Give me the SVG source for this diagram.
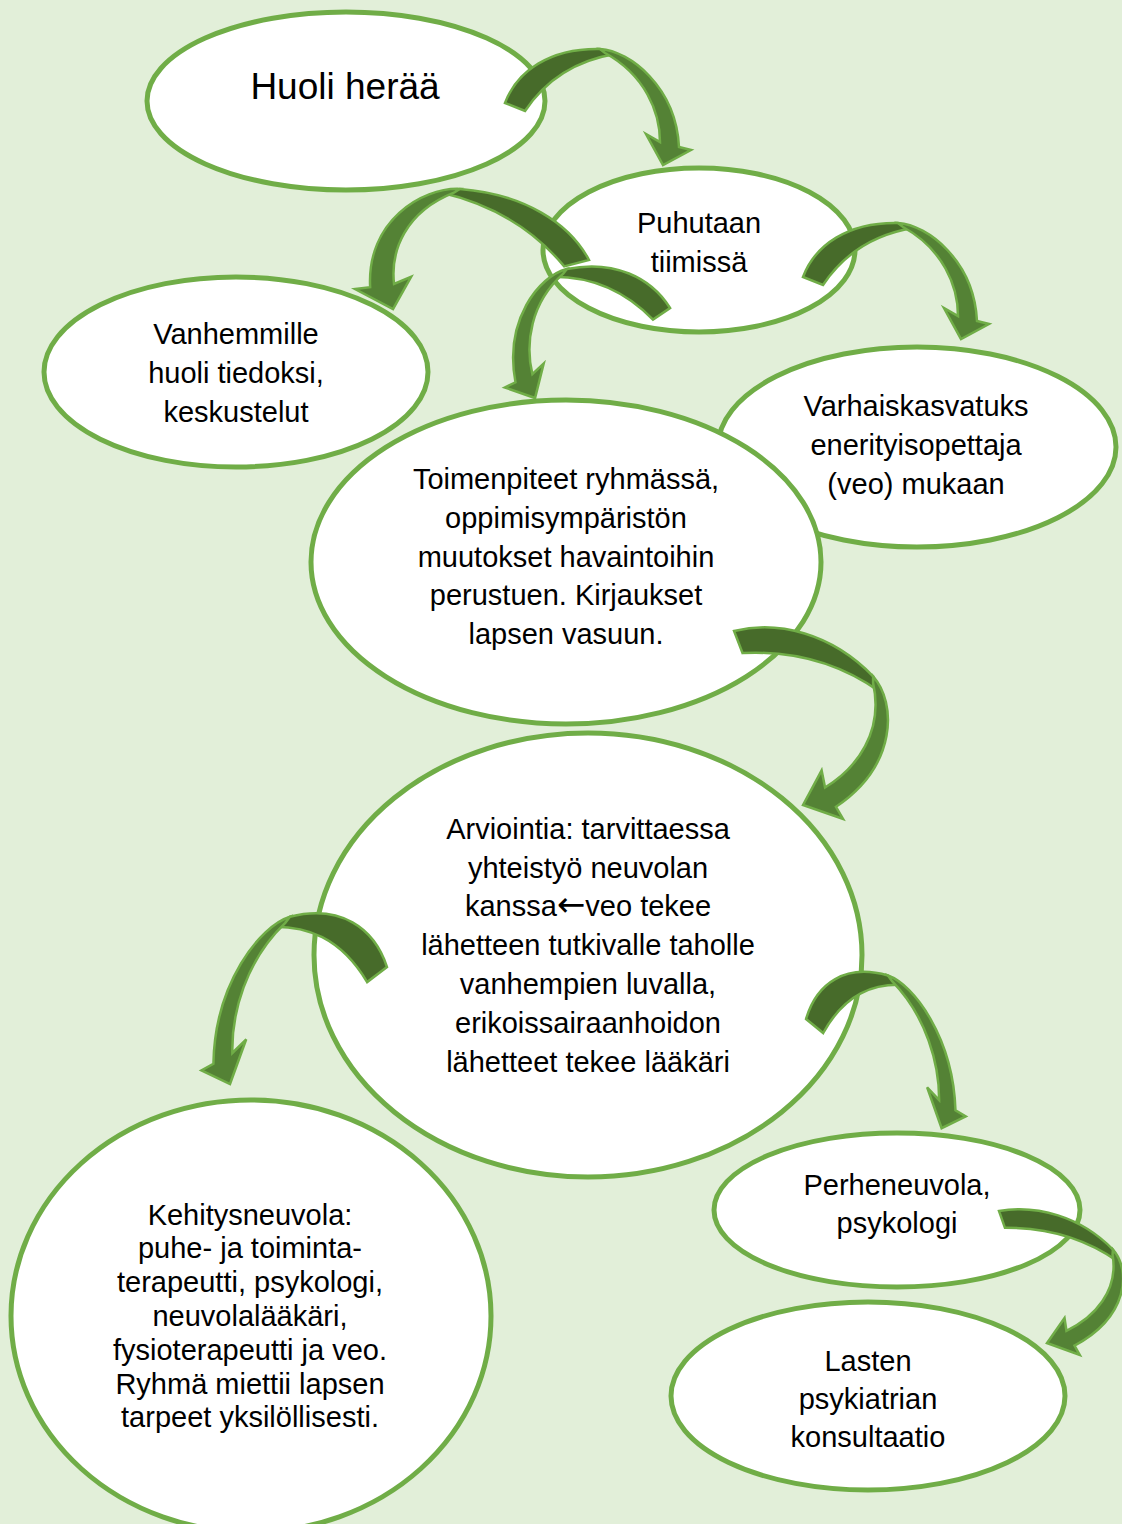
<svg xmlns="http://www.w3.org/2000/svg" xmlns:xlink="http://www.w3.org/1999/xlink" width="1122" height="1524" viewBox="0 0 1122 1524">
<style>
.node ellipse{fill:#ffffff;stroke:#70AD47;stroke-width:5}
.node text{font-family:"Liberation Sans",Arial,sans-serif;font-size:29px;fill:#000;text-anchor:middle}
.sym{font-family:"DejaVu Sans",sans-serif;font-size:34px}
.dk{fill:#476B2A;stroke:#70AD47;stroke-width:2.5;vector-effect:non-scaling-stroke;stroke-linejoin:miter}
.lt{fill:#548235;stroke:#70AD47;stroke-width:2.5;vector-effect:non-scaling-stroke;stroke-linejoin:miter}
</style>
<defs>
<g id="carrow">
<path class="dk" d="M0,56 C12,24 45,1 95,2 L110,7 C80,12 46,25 20,64 Z"/>
<path class="lt" d="M95,2 C125,4 171,40 174,100 L186,103 L158,118 L141,87 L155,95 C155,65 140,28 100,6 Z"/>
</g>
</defs>
<rect x="0" y="0" width="1122" height="1524" fill="#E2EFD9"/>
<g id="n1" class="node"><ellipse cx="346" cy="101" rx="199" ry="89"/><text x="345" y="99" style="font-size:37px">Huoli herää</text></g>
<g id="n2" class="node"><ellipse cx="699" cy="250" rx="156" ry="82"/><text x="699" y="233">Puhutaan</text><text x="699" y="272">tiimissä</text></g>
<g id="n3" class="node"><ellipse cx="236" cy="372" rx="192" ry="95"/><text x="236" y="344">Vanhemmille</text><text x="236" y="383">huoli tiedoksi,</text><text x="236" y="422">keskustelut</text></g>
<g id="n4" class="node"><ellipse cx="917" cy="447" rx="199" ry="100"/><text x="916" y="416">Varhaiskasvatuks</text><text x="916" y="455">enerityisopettaja</text><text x="916" y="494">(veo) mukaan</text></g>
<g id="n5" class="node"><ellipse cx="566" cy="562" rx="255" ry="162"/><text x="566" y="489">Toimenpiteet ryhmässä,</text><text x="566" y="528">oppimisympäristön</text><text x="566" y="567">muutokset havaintoihin</text><text x="566" y="605">perustuen. Kirjaukset</text><text x="566" y="644">lapsen vasuun.</text></g>
<g id="n6" class="node"><ellipse cx="588" cy="955" rx="274" ry="222"/><text x="588" y="839">Arviointia: tarvittaessa</text><text x="588" y="878">yhteistyö neuvolan</text><text x="588" y="916">kanssa<tspan class="sym">←</tspan>veo tekee</text><text x="588" y="955">lähetteen tutkivalle taholle</text><text x="588" y="994">vanhempien luvalla,</text><text x="588" y="1033">erikoissairaanhoidon</text><text x="588" y="1072">lähetteet tekee lääkäri</text></g>
<g id="n7" class="node"><ellipse cx="251" cy="1316" rx="240" ry="216"/><text x="250" y="1225">Kehitysneuvola:</text><text x="250" y="1258">puhe- ja toiminta-</text><text x="250" y="1292">terapeutti, psykologi,</text><text x="250" y="1326">neuvolalääkäri,</text><text x="250" y="1360">fysioterapeutti ja veo.</text><text x="250" y="1394">Ryhmä miettii lapsen</text><text x="250" y="1427">tarpeet yksilöllisesti.</text></g>
<g id="n8" class="node"><ellipse cx="897" cy="1210" rx="183" ry="77"/><text x="897" y="1195">Perheneuvola,</text><text x="897" y="1233">psykologi</text></g>
<g id="n9" class="node"><ellipse cx="868" cy="1396" rx="197" ry="94"/><text x="868" y="1371">Lasten</text><text x="868" y="1409">psykiatrian</text><text x="868" y="1447">konsultaatio</text></g>
<g id="connectors">
<use xlink:href="#carrow" transform="matrix(1,0,0,1,505,47)"/>
<use xlink:href="#carrow" transform="matrix(1,0,0,1,803,221)"/>
<use xlink:href="#carrow" transform="matrix(-1.289,-0.1222,0.1235,1.1017,582.1,198.3)"/>
<use xlink:href="#carrow" transform="matrix(-0.9493,0.1692,0.2418,1.0203,656.5,250.9)"/>
<use xlink:href="#carrow" transform="matrix(0.8562,0.8465,-1.069,0.6493,793.9,594.6)"/>
<use xlink:href="#carrow" transform="matrix(-1.005,0.2217,0.0288,1.322,385.4,893.0)"/>
<use xlink:href="#carrow" transform="matrix(0.86,0.222,-0.0048,1.1956,806.3,952.05)"/>
<use xlink:href="#carrow" transform="matrix(0.6695,0.66,-0.932,0.4471,1051.2,1186)"/>
</g>
</svg>
